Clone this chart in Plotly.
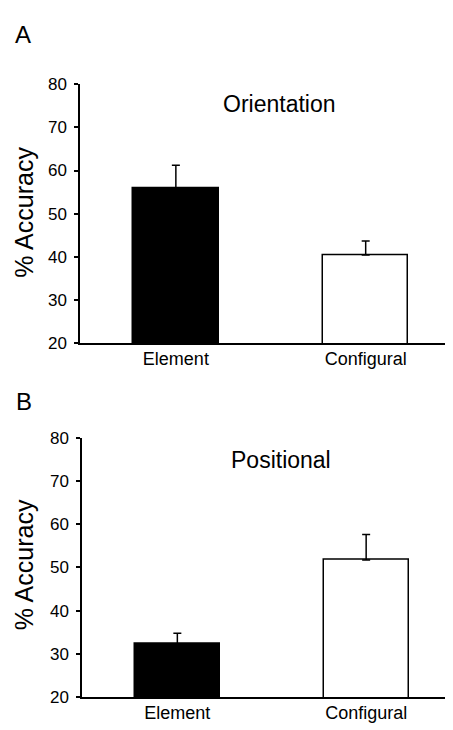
import plotly.graph_objects as go

categories = ["Element", "Configural"]
orientation_vals = [55.8, 40.4]
orientation_err = [5.4, 3.3]
positional_vals = [32.3, 51.7]
positional_err = [2.5, 5.9]
bar_colors = ["black", "white"]
y_ticks = [20, 30, 40, 50, 60, 70, 80]

FONT = "Liberation Sans, Arial, sans-serif"

# page body has an 8px default margin; lay the figure out in page coords minus 8
OFF = 8
W, H = 453 - OFF, 730 - OFF

def px_x(x):
    return (x - OFF) / W

def px_y(y):
    return 1 - (y - OFF) / H

fig = go.Figure()

fig.add_trace(go.Bar(
    x=categories, y=orientation_vals, xaxis="x", yaxis="y",
    marker=dict(color=bar_colors, line=dict(color="black", width=1.5)),
    width=0.45,
    error_y=dict(type="data", symmetric=False, array=orientation_err,
                 arrayminus=[0, 0], color="black", thickness=1.5, width=4),
    showlegend=False,
))
fig.add_trace(go.Bar(
    x=categories, y=positional_vals, xaxis="x2", yaxis="y2",
    marker=dict(color=bar_colors, line=dict(color="black", width=1.5)),
    width=0.45,
    error_y=dict(type="data", symmetric=False, array=positional_err,
                 arrayminus=[0, 0], color="black", thickness=1.5, width=4),
    showlegend=False,
))

yax = dict(range=[20, 80], tickvals=y_ticks, ticks="outside", ticklen=4,
           tickwidth=1.5, tickcolor="black", showline=True, linecolor="black",
           linewidth=1.5, showgrid=False, zeroline=False,
           tickfont=dict(family=FONT, size=17, color="black"),
           ticklabelstandoff=4)
xax = dict(range=[-0.505, 1.46], showline=True, linecolor="black",
           linewidth=1.5, showgrid=False, zeroline=False, ticks="",
           tickfont=dict(family=FONT, size=18, color="black"),
           ticklabelstandoff=-2)

fig.update_layout(
    width=W, height=H,
    margin=dict(l=0, r=0, t=0, b=0),
    paper_bgcolor="white", plot_bgcolor="white",
    xaxis=dict(domain=[px_x(80), 1], anchor="y", **xax),
    yaxis=dict(domain=[px_y(343), px_y(77)], anchor="x", **yax),
    xaxis2=dict(domain=[px_x(82), 1], anchor="y2", **xax),
    yaxis2=dict(domain=[px_y(706.7), px_y(440)], anchor="x2", **yax),
    bargap=0,
)

def ann(text, x, y, size, angle=0):
    fig.add_annotation(text=text, x=px_x(x), y=px_y(y), xref="paper",
                       yref="paper", showarrow=False, textangle=angle,
                       font=dict(family=FONT, size=size, color="black"),
                       xanchor="center", yanchor="middle")

ann("A", 23, 26, 24)
ann("B", 24, 403, 24)
ann("Orientation", 279, 97, 23)
ann("Positional", 281, 463, 23)
ann("% Accuracy", 24, 209, 25, -90)
ann("% Accuracy", 24, 571, 25, -90)

fig.write_html("out.html")
